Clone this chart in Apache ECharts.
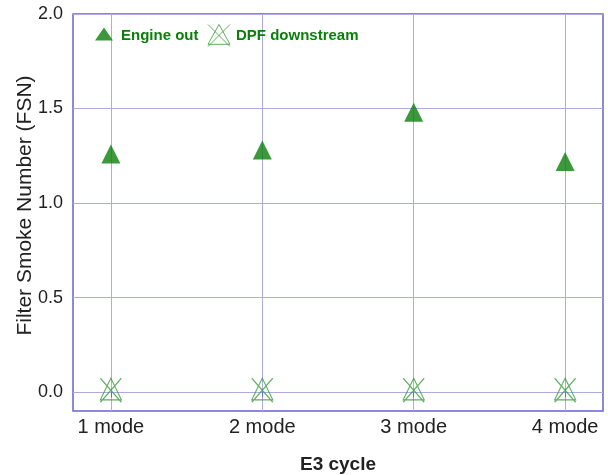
<!DOCTYPE html>
<html><head><meta charset="utf-8">
<script src="https://cdn.jsdelivr.net/npm/echarts@6/dist/echarts.min.js"></script>
<style>html,body{margin:0;padding:0;background:#fff}#c{width:608px;height:475px}</style>
</head><body><div id="c"></div>
<script>
const categories = ['1 mode', '2 mode', '3 mode', '4 mode'];
const engineOut = [1.26, 1.28, 1.48, 1.22];
const dpfDownstream = [0.01, 0.01, 0.01, 0.01];
const yTicks = [0, 0.5, 1.0, 1.5, 2.0];
const xPos = [1, 2, 3, 4];

const green = '#0a7f0a';
const lightGreen = '#3a9a3a';
const font = 'Liberation Sans, Arial, sans-serif';
const crossPath = 'path://M12,1 L22,19 L2,19 Z M2,1 L22,21 M22,1 L2,21';
const triLegend = 'path://M0,0 M24,22 M3,16 L12,3 L21,16 Z';

const chart = echarts.init(document.getElementById('c'));
chart.setOption({
  animation: false,
  grid: { left: 73, right: 5, top: 14, bottom: 64, containLabel: false, outerBoundsMode: 'none',
          show: true, borderColor: '#6a62cf', borderWidth: 1.5 },
  legend: {
    left: 87, top: 19, itemGap: 9, itemWidth: 24, itemHeight: 22,
    textStyle: { color: green, fontWeight: 'bold', fontSize: 15, fontFamily: font },
    data: [
      { name: 'Engine out', icon: triLegend, itemStyle: { color: green } },
      { name: 'DPF downstream', icon: crossPath, itemStyle: { color: 'rgba(0,0,0,0)', borderColor: lightGreen, borderWidth: 1 } }
    ]
  },
  xAxis: {
    type: 'value', min: 0.75, max: 4.25,
    name: 'E3 cycle', nameLocation: 'middle', nameGap: 44, nameMoveOverlap: false,
    nameTextStyle: { fontSize: 19, fontWeight: 'bold', color: '#222', fontFamily: font },
    axisLine: { show: false },
    axisTick: { show: true, inside: false, length: 5, customValues: xPos, lineStyle: { color: '#6a62cf' } },
    axisLabel: { customValues: xPos, formatter: v => categories[Math.round(v) - 1] || '',
                 fontSize: 20, color: '#222', margin: 6, fontFamily: font },
    splitLine: { show: true, lineStyle: { color: '#aeaae6', width: 1 } }
  },
  yAxis: {
    type: 'value', min: -0.1, max: 2.0,
    name: 'Filter Smoke Number (FSN)', nameLocation: 'middle', nameGap: 37, nameMoveOverlap: false,
    nameTextStyle: { fontSize: 21, color: '#222', fontFamily: font, padding: [0, 0, 0, 14] },
    axisLine: { show: false },
    axisTick: { show: false, customValues: yTicks },
    axisLabel: { customValues: yTicks, formatter: v => v.toFixed(1), fontSize: 18, color: '#222', margin: 10,
                 fontFamily: font },
    splitLine: { show: true, lineStyle: { color: '#aeaae6', width: 1 } }
  },
  series: [
    { name: 'Engine out', type: 'scatter', symbol: 'triangle', symbolSize: 19,
      itemStyle: { color: green }, z: 3,
      data: xPos.map((x, i) => [x, engineOut[i]]) },
    { name: 'DPF downstream', type: 'scatter', symbol: crossPath, symbolSize: [21, 24],
      itemStyle: { color: 'rgba(0,0,0,0)', borderColor: lightGreen, borderWidth: 1.2 }, z: 3,
      data: xPos.map((x, i) => [x, dpfDownstream[i]]) }
  ]
});
</script></body></html>
